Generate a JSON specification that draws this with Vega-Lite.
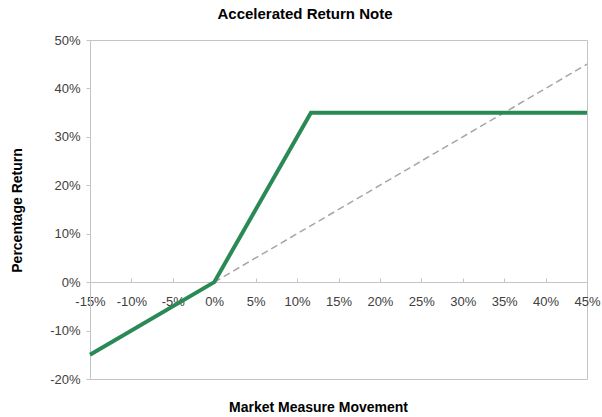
{
  "$schema": "https://vega.github.io/schema/vega-lite/v6.json",
  "width": 497,
  "height": 339,
  "autosize": {"type": "none"},
  "padding": {"left": 90, "top": 40, "right": 15, "bottom": 38},
  "background": "white",
  "title": {
    "text": "Accelerated Return Note",
    "font": "Liberation Sans",
    "fontSize": 15,
    "fontWeight": "bold",
    "color": "#000000",
    "frame": "bounds",
    "offset": 12
  },
  "config": {
    "view": {"stroke": "#c4c4c4", "strokeWidth": 1},
    "axis": {
      "labelFont": "Liberation Sans",
      "labelFontSize": 13,
      "labelColor": "#404040",
      "titleFont": "Liberation Sans",
      "titleFontSize": 14,
      "titleFontWeight": "bold",
      "titleColor": "#000000",
      "domainColor": "#c4c4c4",
      "tickColor": "#c4c4c4",
      "grid": false,
      "labelOverlap": false,
      "labelFlush": false,
      "labelBound": false
    }
  },
  "datasets": {
    "note": [
      {"market": -0.15, "ret": -0.15},
      {"market": 0.0, "ret": 0.0},
      {"market": 0.1167, "ret": 0.35},
      {"market": 0.45, "ret": 0.35}
    ],
    "ref": [
      {"market": 0.0, "ret": 0.0},
      {"market": 0.45, "ret": 0.45}
    ]
  },
  "layer": [
    {
      "data": {"name": "ref"},
      "mark": {"type": "line", "color": "#a6a6a6", "strokeWidth": 1.5, "strokeDash": [7, 4]},
      "encoding": {
        "x": {
          "field": "market", "type": "quantitative",
          "scale": {"domain": [-0.15, 0.45], "nice": false, "zero": false},
          "axis": {
            "title": "Market Measure Movement",
            "format": ".0%",
            "labelExpr": "replace(datum.label, '\u2212', '-')",
            "values": [-0.15, -0.1, -0.05, 0, 0.05, 0.1, 0.15, 0.2, 0.25, 0.3, 0.35, 0.4, 0.45],
            "offset": -97,
            "tickSize": -4,
            "labelPadding": 17,
            "titleX": 228,
            "titleY": 118,
            "titleAlign": "center"
          }
        },
        "y": {
          "field": "ret", "type": "quantitative",
          "scale": {"domain": [-0.2, 0.5], "nice": false, "zero": false},
          "axis": {
            "title": "Percentage Return",
            "format": ".0%",
            "labelExpr": "replace(datum.label, '\u2212', '-')",
            "values": [-0.2, -0.1, 0, 0.1, 0.2, 0.3, 0.4, 0.5],
            "tickSize": 4,
            "labelPadding": 6,
            "titleX": -73,
            "titleY": 170,
            "titleBaseline": "middle",
            "titleAlign": "center"
          }
        }
      }
    },
    {
      "data": {"name": "note"},
      "mark": {"type": "line", "color": "#2a8a55", "strokeWidth": 4},
      "encoding": {
        "x": {"field": "market", "type": "quantitative"},
        "y": {"field": "ret", "type": "quantitative"}
      }
    }
  ]
}
